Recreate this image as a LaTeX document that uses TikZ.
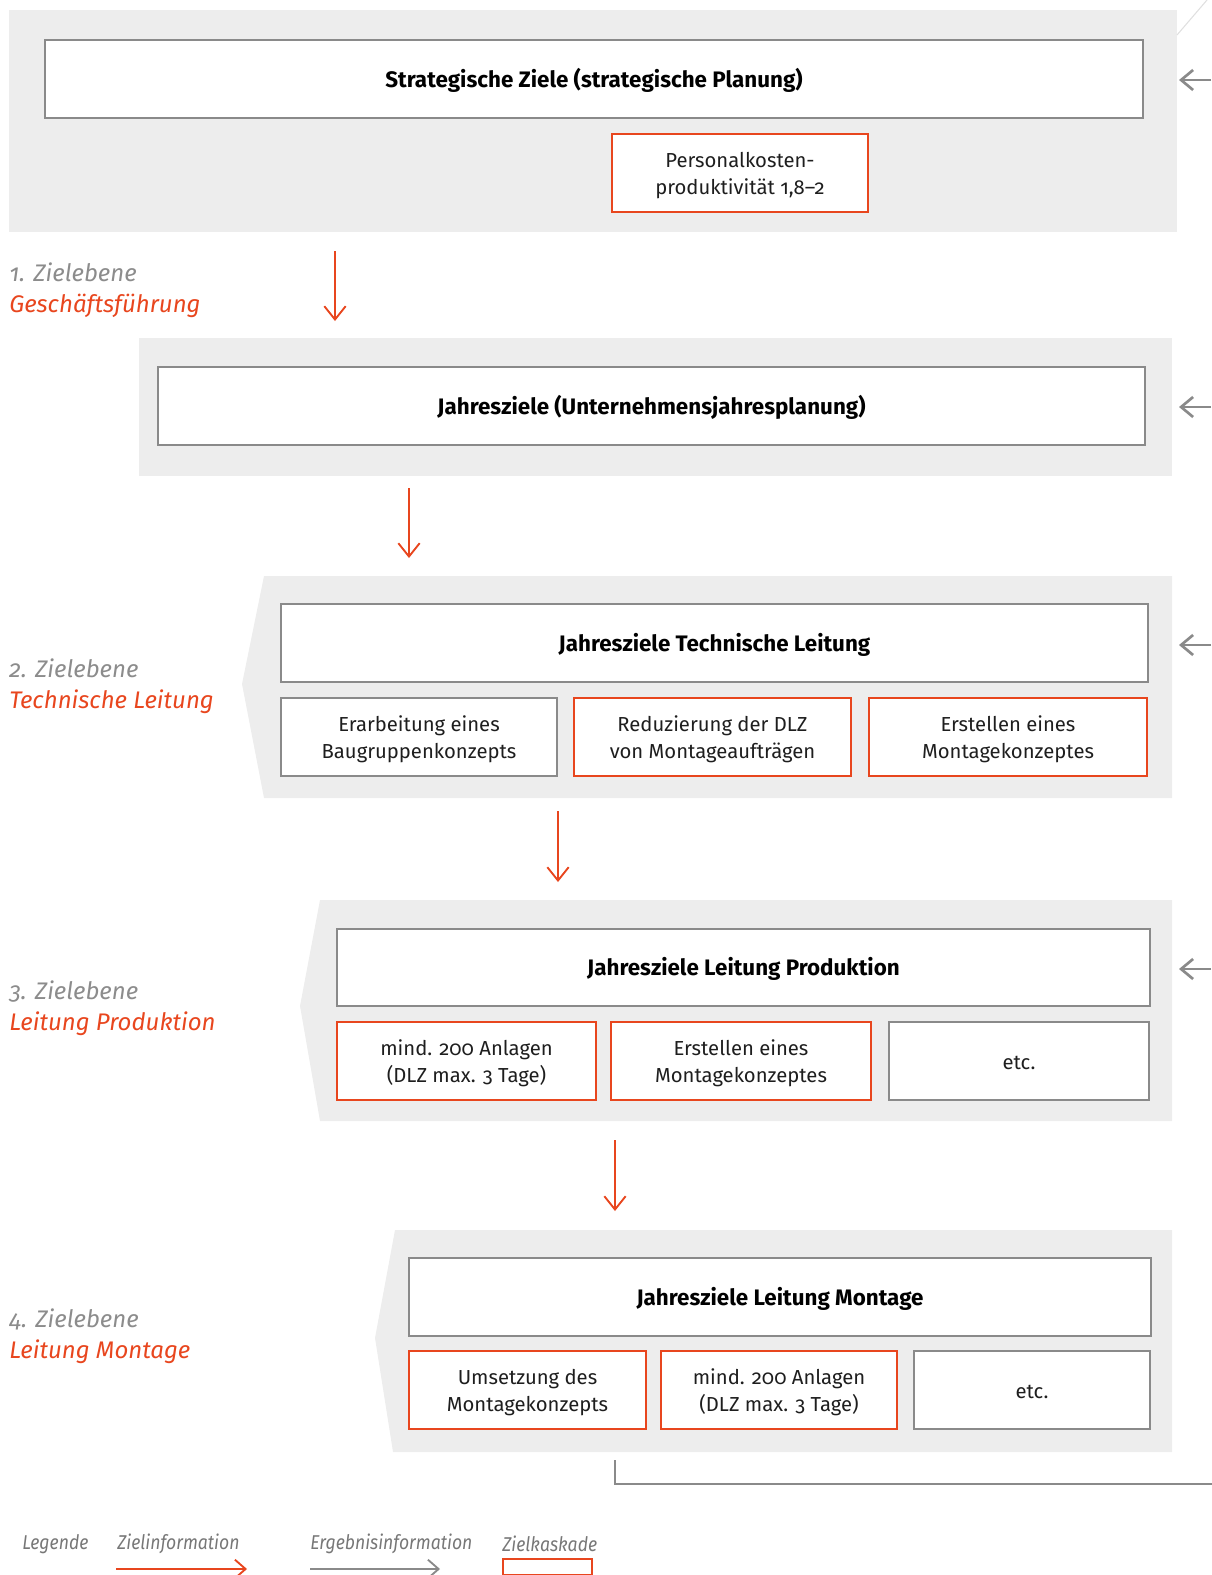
\documentclass[tikz,border=0pt]{standalone}
\usepackage{fontspec}
\setmainfont{Fira Sans}[Numbers=OldStyle]
\newfontfamily\legfont{Fira Sans}[FakeStretch=0.88]
\usetikzlibrary{arrows.meta}
\definecolor{zred}{HTML}{E8461E}
\definecolor{zgray}{HTML}{8A8A8A}
\definecolor{zpanel}{HTML}{EDEDED}
\definecolor{ztext}{HTML}{1E1E1E}
\definecolor{zlabel}{HTML}{8C8C8C}
\newcommand{\zbox}[7]{\node[#6, minimum width={(#4-#2)*0.75pt}, minimum height={(#5-#3)*0.75pt}] (#1) at ({(#2+#4)/2},{(#3+#5)/2}) {\raisebox{-2.2pt}[\height][\depth]{\begin{tabular}{@{}c@{}}#7\end{tabular}}};}
\begin{document}
\begin{tikzpicture}[x=0.75pt,y=-0.75pt,
  panel/.style={fill=zpanel,draw=none},
  gbox/.style={draw=zgray,line width=1.5pt,fill=white,inner sep=0pt,text=ztext,font=\fontsize{15.2}{20}\selectfont},
  rbox/.style={gbox,draw=zred},
  title/.style={gbox,font=\bfseries\fontsize{16.8}{20}\selectfont,text=black},
  lvl/.style={anchor=west,align=left,inner sep=0pt,font=\itshape\fontsize{18}{23}\selectfont},
  down/.style={draw=zred,line width=1.4pt,-{Straight Barb[length=10pt,width=16pt]}},
  back/.style={draw=zgray,line width=2pt,-{Straight Barb[length=9pt,width=15pt]}},
  leg/.style={anchor=west,inner sep=0pt,text=zlabel!85!black,font=\legfont\itshape\fontsize{15}{17}\selectfont}
]
\useasboundingbox (0,0) rectangle (1211,1575);

% panels
\fill[panel] (9,10) rectangle (1177,232);
\fill[panel] (139,338) rectangle (1172,476);
\fill[panel] (264,576) -- (1172,576) -- (1172,798) -- (264,798) -- (242,684) -- cycle;
\fill[panel] (320,900) -- (1172,900) -- (1172,1121) -- (320,1121) -- (300,1006) -- cycle;
\fill[panel] (395,1230) -- (1172,1230) -- (1172,1452) -- (393,1452) -- (375,1338) -- cycle;

% faint line top right
\coordinate (fa) at (1177,35);
\coordinate (fb) at (1207,0);
\draw[black!12,line width=0.8pt] (fa) -- (fb);

% level 0
\zbox{s0}{45}{40}{1143}{118}{title}{Strategische Ziele (strategische Planung)}
\zbox{pk}{612}{134}{868}{212}{rbox}{Personalkosten-\\produktivität 1,8--2}

% level 1
\zbox{s1}{158}{367}{1145}{445}{title}{Jahresziele (Unternehmensjahresplanung)}

% level 2
\zbox{s2}{281}{604}{1148}{682}{title}{Jahresziele Technische Leitung}
\zbox{s2a}{281}{698}{557}{776}{gbox}{Erarbeitung eines\\Baugruppenkonzepts}
\zbox{s2b}{574}{698}{851}{776}{rbox}{Reduzierung der DLZ\\von Montageaufträgen}
\zbox{s2c}{869}{698}{1147}{776}{rbox}{Erstellen eines\\Montagekonzeptes}

% level 3
\zbox{s3}{337}{929}{1150}{1006}{title}{Jahresziele Leitung Produktion}
\zbox{s3a}{337}{1022}{596}{1100}{rbox}{mind. 200 Anlagen\\(DLZ max. 3 Tage)}
\zbox{s3b}{611}{1022}{871}{1100}{rbox}{Erstellen eines\\Montagekonzeptes}
\zbox{s3c}{889}{1022}{1149}{1100}{gbox}{etc.}

% level 4
\zbox{s4}{409}{1258}{1151}{1336}{title}{Jahresziele Leitung Montage}
\zbox{s4a}{409}{1351}{646}{1429}{rbox}{Umsetzung des\\Montagekonzepts}
\zbox{s4b}{661}{1351}{897}{1429}{rbox}{mind. 200 Anlagen\\(DLZ max. 3 Tage)}
\zbox{s4c}{914}{1351}{1150}{1429}{gbox}{etc.}

% level labels
\node[lvl] (l1) at (9,290) {\textcolor{zlabel}{1. Zielebene}\\\textcolor{zred}{Geschäftsführung}};
\node[lvl] (l2) at (9,686) {\textcolor{zlabel}{2. Zielebene}\\\textcolor{zred}{Technische Leitung}};
\node[lvl] (l3) at (9,1008) {\textcolor{zlabel}{3. Zielebene}\\\textcolor{zred}{Leitung Produktion}};
\node[lvl] (l4) at (9,1336) {\textcolor{zlabel}{4. Zielebene}\\\textcolor{zred}{Leitung Montage}};

% red downward arrows (Zielinformation)
\coordinate (d1a) at (335,251); \coordinate (d1b) at (335,321);
\coordinate (d2a) at (409,488); \coordinate (d2b) at (409,558);
\coordinate (d3a) at (558,811); \coordinate (d3b) at (558,882);
\coordinate (d4a) at (615,1140); \coordinate (d4b) at (615,1211);
\draw[down] (d1a) -- (d1b);
\draw[down] (d2a) -- (d2b);
\draw[down] (d3a) -- (d3b);
\draw[down] (d4a) -- (d4b);

% grey return arrows (Ergebnisinformation)
\coordinate (r1a) at (1211,80);  \coordinate (r1b) at (1179,80);
\coordinate (r2a) at (1211,407); \coordinate (r2b) at (1179,407);
\coordinate (r3a) at (1211,645); \coordinate (r3b) at (1179,645);
\coordinate (r4a) at (1211,969); \coordinate (r4b) at (1179,969);
\draw[back] (r1a) -- (r1b);
\draw[back] (r2a) -- (r2b);
\draw[back] (r3a) -- (r3b);
\draw[back] (r4a) -- (r4b);

% return line from level 4
\coordinate (rt1) at (615,1460);
\coordinate (rt2) at (1212,1484);
\draw[zgray,line width=2pt] (rt1) |- (rt2);

% legend
\node[leg] (lg0) at (22,1544) {Legende};
\node[leg] (lg1) at (117,1544) {Zielinformation};
\node[leg] (lg2) at (310,1544) {Ergebnisinformation};
\node[leg] (lg3) at (502,1544) {Zielkaskade};
\coordinate (la1) at (116,1569); \coordinate (la2) at (247,1569);
\coordinate (lb1) at (310,1569); \coordinate (lb2) at (440,1569);
\draw[draw=zred,line width=1.4pt,-{Straight Barb[length=8pt,width=14pt]}] (la1) -- (la2);
\draw[draw=zgray,line width=1.4pt,-{Straight Barb[length=8pt,width=14pt]}] (lb1) -- (lb2);
\node[draw=zred,line width=1.5pt,inner sep=0pt,minimum width={89*0.75pt},minimum height={16*0.75pt}] (lk) at (547.5,1567) {};
\end{tikzpicture}
\end{document}
